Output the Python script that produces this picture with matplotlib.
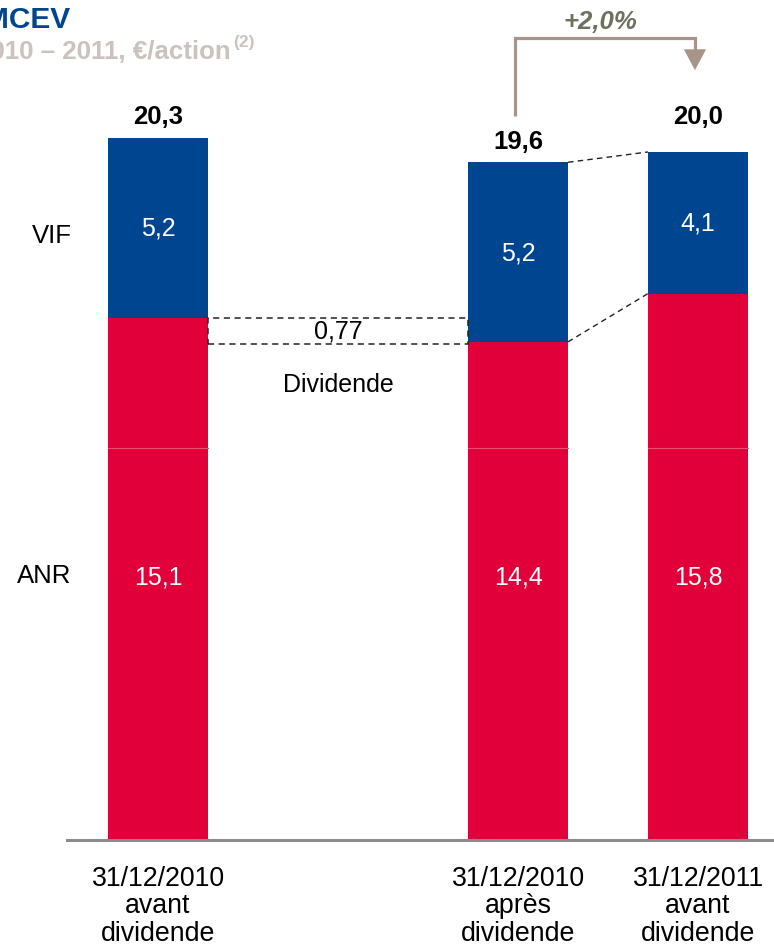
import matplotlib.pyplot as plt
from matplotlib.patches import Rectangle

plt.rcParams['font.family'] = ['Liberation Sans', 'DejaVu Sans']

# MCEV per share, stacked ANR + VIF
positions = [0, 2, 3]
anr = [15.1, 14.4, 15.8]
vif = [5.2, 5.2, 4.1]
totals = ['20,3', '19,6', '20,0']
anr_labels = ['15,1', '14,4', '15,8']
vif_labels = ['5,2', '5,2', '4,1']
categories = ['31/12/2010\navant\ndividende', '31/12/2010\naprès\ndividende', '31/12/2011\navant\ndividende']
dividend = 0.77
growth = '+2,0%'

RED = '#E2003A'
BLUE = '#00458F'
width = 0.555

fig = plt.figure(figsize=(7.74, 9.45), dpi=100)
ax = fig.add_axes([0, 0, 1, 1])
ax.set_xlim(-0.878, 3.422)
ax.set_ylim(-3.04, 24.33)
ax.axis('off')

ax.bar(positions, anr, width=width, color=RED, zorder=2)
ax.bar(positions, vif, width=width, bottom=anr, color=BLUE, zorder=2)

# faint seam in the red segments
for p in positions:
    ax.plot([p - width / 2, p + width / 2], [11.33, 11.33], color='#E9506E', lw=0.8, zorder=3)

# baseline
ax.plot([-0.506, 3.422], [-0.04, -0.04], color='#8C8C8C', lw=2.2, zorder=4, clip_on=False)

for p, a, v, vl, al in zip(positions, anr, vif, vif_labels, anr_labels):
    ax.text(p, a + v / 2, vl, color='white', fontsize=18, ha='center', va='center', zorder=5)
    ax.text(p, 7.6, al, color='white', fontsize=18, ha='center', va='center', zorder=5)

label_y = [20.94, 20.23, 20.94]
for p, t, y in zip(positions, totals, label_y):
    ax.text(p, y, t, fontsize=18.5, fontweight='bold', ha='center', va='center')

for p, c in zip(positions, categories):
    ax.text(p, -0.75, c, fontsize=19.3, ha='center', va='top', linespacing=1.07)

ax.text(-0.589, 17.5, 'VIF', fontsize=18.5, ha='center', va='center')
ax.text(-0.63, 7.65, 'ANR', fontsize=18.5, ha='center', va='center')

# dividend paid between the two 2010 bars
x0 = positions[0] + width / 2
x1 = positions[1] - width / 2
ax.add_patch(Rectangle((x0, anr[0] - dividend), x1 - x0, dividend, fill=False,
                       ls=(0, (4, 3)), lw=1.1, ec='#222222', zorder=3))
ax.text((x0 + x1) / 2, anr[0] - dividend / 2, '0,77', fontsize=18, ha='center', va='center')
ax.text((x0 + x1) / 2, anr[0] - dividend - 1.15, 'Dividende', fontsize=18, ha='center', va='center')

# dashed links from bar 2 to bar 3
xa = positions[1] + width / 2
xb = positions[2] - width / 2
ax.plot([xa, xb], [anr[1] + vif[1], anr[2] + vif[2]], ls=(0, (4, 3)), lw=1.0, color='#222222')
ax.plot([xa, xb], [anr[1], anr[2]], ls=(0, (4, 3)), lw=1.0, color='#222222')

# growth bracket
ARROW = '#A89488'
ax.plot([1.983, 1.983, 2.983, 2.983], [20.94, 23.2, 23.2, 22.7], color=ARROW, lw=2.3,
        solid_joinstyle='miter', solid_capstyle='butt')
ax.annotate('', xy=(2.983, 22.27), xytext=(2.983, 22.8),
            arrowprops=dict(arrowstyle='-|>,head_length=0.75,head_width=0.4', color=ARROW,
                            lw=0, shrinkA=0, shrinkB=0, mutation_scale=20))
ax.text(2.456, 23.68, growth, fontsize=18.5, fontweight='bold', fontstyle='italic',
        color='#6F705F', ha='center', va='center')

# header, partly cut at the left edge
fig.text(0.0905, 0.9704, 'MCEV', fontsize=21.5, fontweight='bold', color='#00458F',
         ha='right', va='baseline')
fig.text(0.2975, 0.9376, '2010 – 2011, €/action', fontsize=18.6, fontweight='bold',
         color='#CBC2BD', ha='right', va='baseline')
fig.text(0.3015, 0.9505, '(2)', fontsize=12.5, fontweight='bold',
         color='#CBC2BD', ha='left', va='baseline')

fig.savefig('out.png', dpi=100)
